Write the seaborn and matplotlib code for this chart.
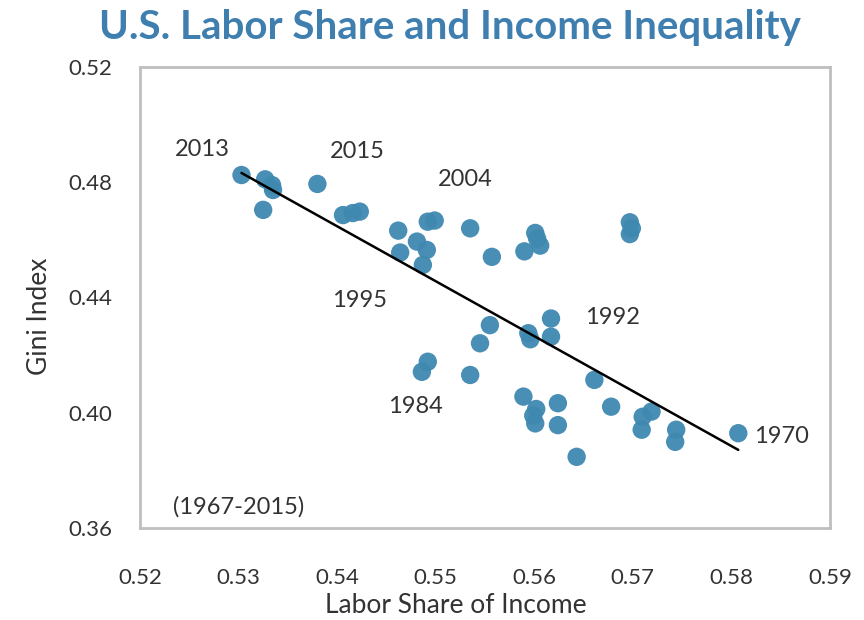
import numpy as np
import pandas as pd
import matplotlib
matplotlib.use("Agg")
import matplotlib.pyplot as plt
import seaborn as sns

# Labor share vs Gini index, 1967-2015
labor_share = [
    0.5303, 0.5327, 0.5335, 0.5325, 0.5334, 0.5380, 0.5406, 0.5416, 0.5423,
    0.5462, 0.5492, 0.5499, 0.5535, 0.5481, 0.5491, 0.5464, 0.5487, 0.5557,
    0.5601, 0.5590, 0.5606, 0.5603, 0.5697, 0.5697, 0.5699, 0.5555, 0.5545,
    0.5594, 0.5596, 0.5617, 0.5617, 0.5492, 0.5486, 0.5535, 0.5661, 0.5589,
    0.5602, 0.5601, 0.5624, 0.5624, 0.5643, 0.5678, 0.5710, 0.5719, 0.5709,
    0.5744, 0.5743, 0.5807, 0.5599,
]
gini = [
    0.4825, 0.4810, 0.4773, 0.4704, 0.4790, 0.4794, 0.4686, 0.4693, 0.4698,
    0.4632, 0.4663, 0.4667, 0.4640, 0.4594, 0.4565, 0.4556, 0.4513, 0.4541,
    0.4624, 0.4560, 0.4580, 0.4604, 0.4661, 0.4620, 0.4640, 0.4304, 0.4241,
    0.4276, 0.4255, 0.4327, 0.4264, 0.4177, 0.4142, 0.4131, 0.4114, 0.4056,
    0.4013, 0.3963, 0.4033, 0.3957, 0.3847, 0.4021, 0.3986, 0.4004, 0.3941,
    0.3941, 0.3899, 0.3929, 0.3990,
]

# linear trend line as shown on the chart: gini = slope * share + intercept
trend_slope = -1.907
trend_intercept = 1.4945

year_labels = ["2013", "2015", "2004", "1995", "1992", "1984", "1970"]
label_x = [0.5263, 0.5421, 0.5530, 0.5423, 0.5679, 0.5479, 0.5823]
label_y = [0.4913, 0.4905, 0.4808, 0.4391, 0.4329, 0.4020, 0.3916]

df = pd.DataFrame({"labor_share": labor_share, "gini": gini})
trend_x = np.array([df.labor_share.min(), df.labor_share.max()])
trend = pd.DataFrame({"labor_share": trend_x,
                      "gini": trend_slope * trend_x + trend_intercept})

sns.set_style("white")
plt.rcParams["font.family"] = ["Lato", "DejaVu Sans"]

fig, ax = plt.subplots(figsize=(8.64, 6.2), dpi=100)
fig.subplots_adjust(left=0.162, right=0.9606, top=0.892, bottom=0.1484)

sns.scatterplot(data=df, x="labor_share", y="gini", ax=ax, s=175,
                color="#3F88B0", edgecolor="none", alpha=0.95, zorder=2)
sns.lineplot(data=trend, x="labor_share", y="gini", ax=ax, color="black",
             lw=1.8, zorder=3)

for t, x, y in zip(year_labels, label_x, label_y):
    ha = "left" if t == "1970" else "center"
    ax.text(x, y, t, ha=ha, va="center", fontsize=17, color="#333333")
ax.text(0.5234, 0.3673, "(1967-2015)", ha="left", va="center",
        fontsize=17, color="#333333")

ax.set_xlim(0.52, 0.59)
ax.set_ylim(0.36, 0.52)
ax.set_xticks(np.arange(0.52, 0.5901, 0.01))
ax.set_yticks(np.arange(0.36, 0.5201, 0.04))
ax.xaxis.set_major_formatter(matplotlib.ticker.FormatStrFormatter("%.2f"))
ax.yaxis.set_major_formatter(matplotlib.ticker.FormatStrFormatter("%.2f"))
ax.tick_params(axis="x", length=0, pad=29, labelsize=16, labelcolor="#333333")
ax.tick_params(axis="y", length=0, pad=20, labelsize=16, labelcolor="#333333")
ax.set_xlabel("")
ax.set_ylabel("")

for sp in ax.spines.values():
    sp.set_color("#BFBFBF")
    sp.set_linewidth(2)

fig.text(0.521, 0.955, "U.S. Labor Share and Income Inequality", ha="center",
         va="center", fontsize=29, fontweight="bold", color="#3E7FB0")
fig.text(0.528, 0.024, "Labor Share of Income", ha="center", va="center",
         fontsize=19, color="#333333")
fig.text(0.046, 0.49, "Gini Index", ha="center", va="center", rotation=90,
         fontsize=19, color="#333333")

fig.savefig("out.png", dpi=100)
